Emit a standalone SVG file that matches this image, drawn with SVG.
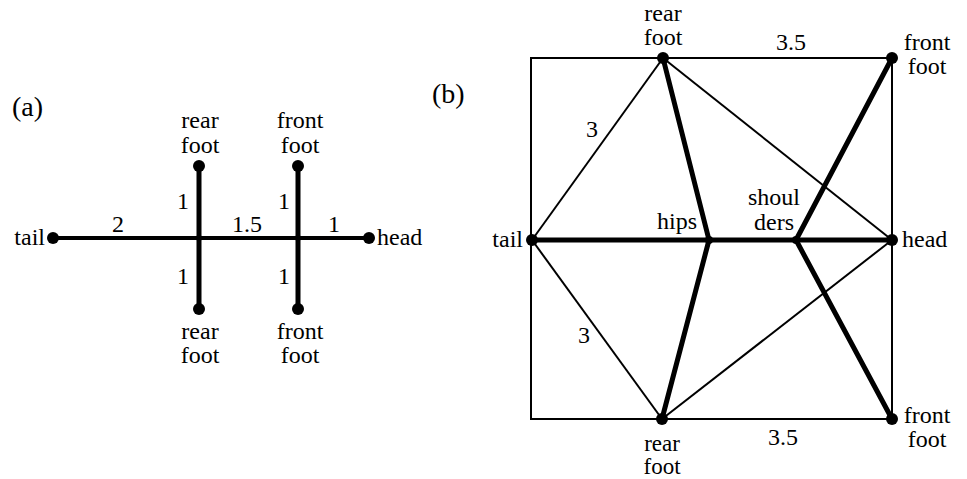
<svg xmlns="http://www.w3.org/2000/svg" width="967" height="479" viewBox="0 0 967 479">
<style>
text{font-family:"Liberation Serif","Times New Roman",serif;font-size:24px;fill:#000}
.lbl{font-size:28px}
.sm{font-size:23px}
.m{text-anchor:middle}.e{text-anchor:end}
.thin{stroke:#000;stroke-width:2;fill:none}
.thick{stroke:#000;stroke-width:5;fill:none;stroke-linecap:round}
.thk4{stroke:#000;stroke-width:4;fill:none}
.dot{fill:#000}
</style>
<rect width="967" height="479" fill="#fff"/>
<text class="lbl" x="12" y="116">(a)</text>
<text class="lbl" x="432" y="103">(b)</text>
<g id="connectors">
  <g id="conn-a">
    <line class="thk4" x1="53" y1="238" x2="369" y2="238"/>
    <line class="thick" x1="199" y1="166" x2="199" y2="309"/>
    <line class="thick" x1="298" y1="166" x2="298" y2="309"/>
    <text class="m" x="118" y="232">2</text>
    <text class="m" x="247" y="232">1.5</text>
    <text class="m" x="334" y="232">1</text>
    <text class="m" x="183" y="209">1</text>
    <text class="m" x="284" y="209">1</text>
    <text class="m" x="183" y="284">1</text>
    <text class="m" x="284" y="284">1</text>
  </g>
  <g id="conn-b">
    <rect class="thin" x="531" y="58" width="361" height="361"/>
    <line class="thin" x1="532" y1="240" x2="663" y2="58"/>
    <line class="thin" x1="532" y1="240" x2="662" y2="419"/>
    <line class="thin" x1="663" y1="58" x2="892" y2="240"/>
    <line class="thin" x1="662" y1="419" x2="892" y2="240"/>
    <line class="thick" x1="532" y1="240" x2="892" y2="240"/>
    <line class="thick" x1="709" y1="240" x2="663" y2="58"/>
    <line class="thick" x1="709" y1="240" x2="662" y2="419"/>
    <line class="thick" x1="796" y1="240" x2="892" y2="58"/>
    <line class="thick" x1="796" y1="240" x2="892" y2="419"/>
    <text class="m" x="592" y="137">3</text>
    <text class="m" x="584" y="343">3</text>
    <text class="m" x="791" y="50">3.5</text>
    <text class="m" x="783" y="445">3.5</text>
  </g>
</g>
<g id="a-tail"><circle class="dot" cx="53" cy="238" r="6"/><text class="e" x="45" y="245">tail</text></g>
<g id="a-head"><circle class="dot" cx="369" cy="238" r="6"/><text x="377" y="245">head</text></g>
<g id="a-rear-top"><circle class="dot" cx="199" cy="166" r="6"/><text class="m" x="200" y="128">rear</text><text class="m" x="200" y="153">foot</text></g>
<g id="a-front-top"><circle class="dot" cx="298" cy="166" r="6"/><text class="m" x="300" y="128">front</text><text class="m" x="300" y="153">foot</text></g>
<g id="a-rear-bot"><circle class="dot" cx="199" cy="309" r="6"/><text class="m" x="200" y="339">rear</text><text class="m" x="200" y="363">foot</text></g>
<g id="a-front-bot"><circle class="dot" cx="298" cy="309" r="6"/><text class="m" x="300" y="339">front</text><text class="m" x="300" y="363">foot</text></g>
<g id="a-hip"><circle class="dot" cx="199" cy="238" r="3"/></g>
<g id="a-shoulder"><circle class="dot" cx="298" cy="238" r="3"/></g>
<g id="b-tail"><circle class="dot" cx="532" cy="240" r="6"/><text class="e" x="523" y="247">tail</text></g>
<g id="b-head"><circle class="dot" cx="892" cy="240" r="6"/><text x="902" y="247">head</text></g>
<g id="b-hips"><circle class="dot" cx="709" cy="240" r="4"/><text class="m" x="677" y="229">hips</text></g>
<g id="b-shoulders"><circle class="dot" cx="796" cy="240" r="4"/><text class="m" x="774" y="205">shoul</text><text class="m" x="774" y="230">ders</text></g>
<g id="b-rear-top"><circle class="dot" cx="663" cy="58" r="6"/><text class="m" x="663" y="21">rear</text><text class="m" x="663" y="45">foot</text></g>
<g id="b-front-top"><circle class="dot" cx="892" cy="58" r="6"/><text class="m" x="927" y="50">front</text><text class="m" x="927" y="74">foot</text></g>
<g id="b-rear-bot"><circle class="dot" cx="662" cy="419" r="6"/><text class="m sm" x="662" y="451">rear</text><text class="m sm" x="662" y="474">foot</text></g>
<g id="b-front-bot"><circle class="dot" cx="892" cy="419" r="6"/><text class="m" x="927" y="423">front</text><text class="m" x="927" y="447">foot</text></g>
</svg>
